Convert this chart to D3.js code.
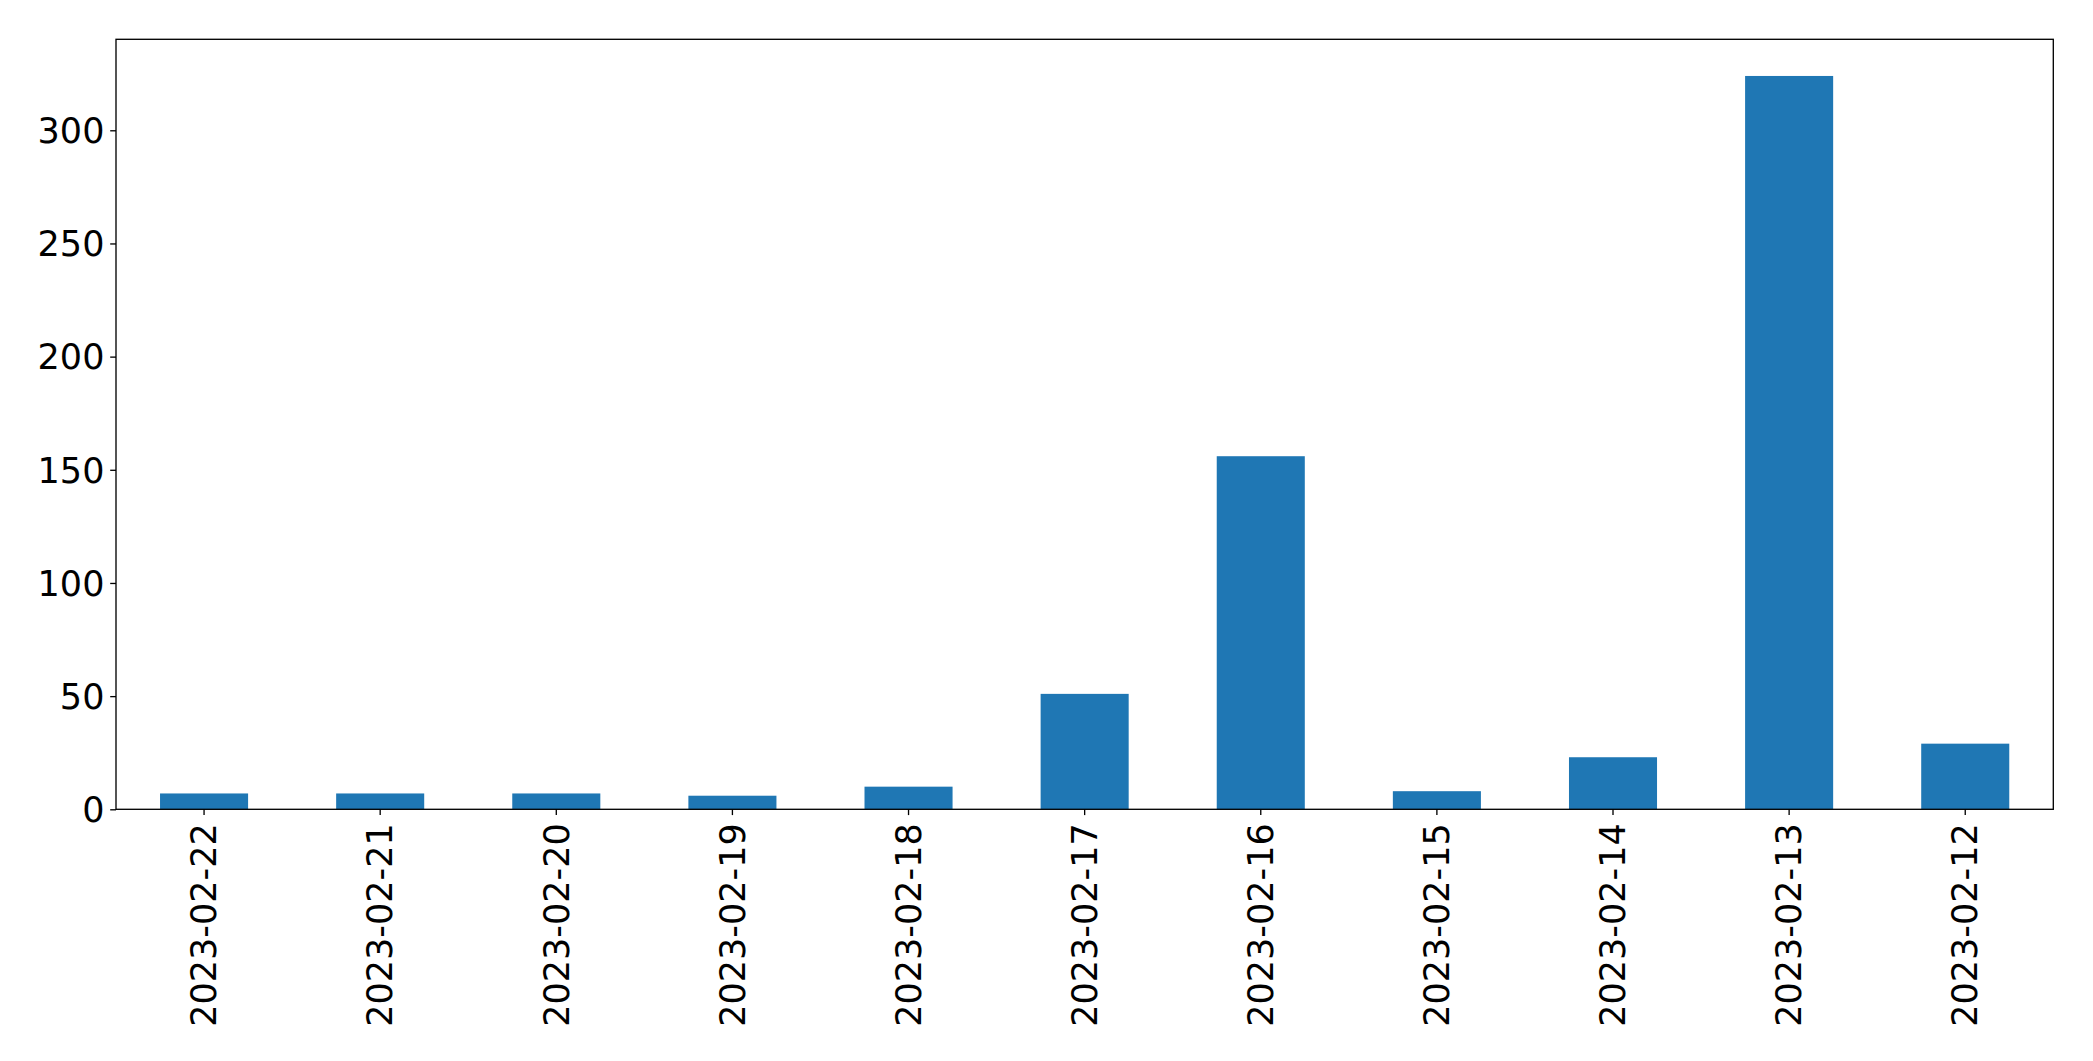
<!DOCTYPE html>
<html>
<head>
<meta charset="utf-8">
<script src="https://cdn.jsdelivr.net/npm/d3@7"></script>
<style>
  html, body { margin: 0; padding: 0; background: #fff; }
  svg { display: block; }
  text { font-family: "DejaVu Sans", sans-serif; fill: #000; }
</style>
</head>
<body>
<svg id="chart" width="2093" height="1061"></svg>
<script>
const categories = ["2023-02-22","2023-02-21","2023-02-20","2023-02-19","2023-02-18","2023-02-17","2023-02-16","2023-02-15","2023-02-14","2023-02-13","2023-02-12"];
const values = [7, 7, 7, 6, 10, 51, 156, 8, 23, 324, 29];
const yTicks = [0, 50, 100, 150, 200, 250, 300];

(function () {
const W = 2093, H = 1061;
const mLeft = 116, mRight = 2053.3, mTop = 39.3, mBottom = 809.3;
const svg = d3.select("#chart");

const x = d3.scaleBand().domain(categories).range([mLeft, mRight]).paddingInner(0.5).paddingOuter(0.25);
const y = d3.scaleLinear().domain([0, d3.max(values) * 1.05]).range([mBottom, mTop]);

svg.append("g").selectAll("rect").data(values).join("rect")
  .attr("x", (d, i) => x(categories[i]))
  .attr("width", x.bandwidth())
  .attr("y", d => y(d))
  .attr("height", d => y(0) - y(d))
  .attr("fill", "#1f77b4");

const fs = 35;
// y axis
const yAxis = svg.append("g").attr("transform", `translate(${mLeft},0)`)
  .call(d3.axisLeft(y).tickValues(yTicks).tickSize(5.8).tickPadding(5.8).tickFormat(d3.format("d")));
yAxis.select(".domain").remove();
yAxis.selectAll("line").attr("stroke", "#000").attr("stroke-width", 1.33);
yAxis.selectAll("text").style("font-size", fs + "px").attr("dy", "0.35em");

// x axis
const xAxis = svg.append("g").attr("transform", `translate(0,${mBottom})`)
  .call(d3.axisBottom(x).tickSize(5.8).tickPadding(5.8));
xAxis.select(".domain").remove();
xAxis.selectAll("line").attr("stroke", "#000").attr("stroke-width", 1.33);
xAxis.selectAll("text")
  .style("font-size", fs + "px")
  .attr("text-anchor", "end")
  .attr("transform", "translate(0,14) rotate(-90)")
  .attr("x", 0).attr("y", 0).attr("dy", "0.35em");

// frame
svg.append("rect").attr("x", mLeft).attr("y", mTop)
  .attr("width", mRight - mLeft).attr("height", mBottom - mTop)
  .attr("fill", "none").attr("stroke", "#000").attr("stroke-width", 1.33);
})();
</script>
</body>
</html>
